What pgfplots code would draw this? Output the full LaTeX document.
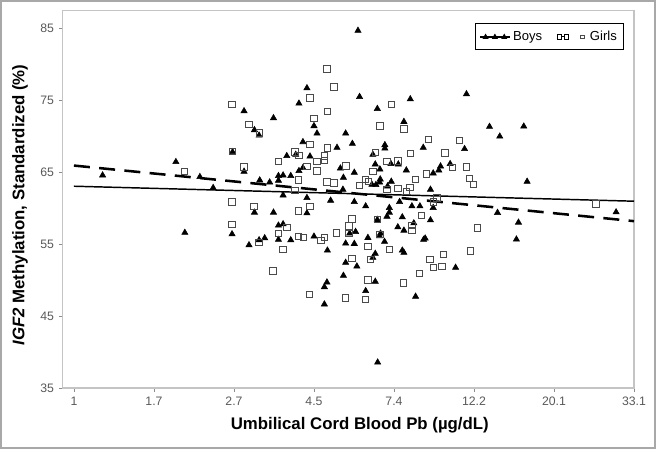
\documentclass[border=0pt]{standalone}
\usepackage{pgfplots}
\pgfplotsset{compat=1.18}
\usepackage{pgfplotstable}
\usepackage{fontspec}
\setmainfont{Liberation Sans}
\definecolor{framegray}{HTML}{C4C4C4}
\definecolor{tickgray}{HTML}{8C8C8C}
\definecolor{labgray}{HTML}{595959}
\definecolor{sqgray}{HTML}{4A4A4A}
\definecolor{bordergray}{HTML}{A8A8A8}

\pgfplotstableread{
x y
0.179 64.54
0.637 66.40
0.787 64.32
0.870 62.80
0.693 56.57
1.063 73.46
0.991 67.78
1.063 65.06
1.128 70.83
1.157 70.08
1.247 72.49
1.406 74.52
1.456 76.65
1.500 71.39
1.519 70.36
1.698 70.36
1.740 68.93
1.431 69.17
1.644 68.38
1.330 67.23
1.386 67.41
1.475 67.17
1.665 65.51
1.752 64.92
1.431 65.57
1.406 65.15
1.355 64.46
1.278 64.46
1.307 64.54
1.684 64.22
1.278 63.81
1.161 63.85
1.223 63.57
1.681 62.56
1.785 75.44
1.307 61.77
1.456 61.41
2.102 75.12
2.453 75.82
1.896 73.78
2.062 71.98
2.597 71.29
1.943 68.75
1.943 68.28
2.183 68.38
2.441 68.20
1.868 67.41
1.883 66.07
1.981 66.12
2.027 66.07
2.351 66.12
2.291 65.79
2.280 65.24
1.912 65.37
2.077 65.24
2.245 64.82
1.914 63.99
1.910 63.57
1.862 63.25
1.887 63.21
1.983 63.67
1.960 63.02
2.228 62.56
1.604 61.04
1.752 60.86
1.128 59.38
1.247 59.38
1.456 59.28
1.278 57.58
1.307 57.76
0.988 56.37
1.094 54.85
1.157 55.54
1.192 55.82
1.278 55.60
1.355 55.54
1.500 56.05
1.584 54.11
1.698 55.08
1.752 55.04
1.723 56.47
1.760 56.70
1.698 52.41
1.768 51.90
1.684 50.61
1.581 49.68
1.565 49.03
1.565 46.63
2.035 60.86
2.112 60.25
2.162 60.25
2.245 60.03
1.823 60.25
1.971 60.03
1.971 59.38
1.956 58.82
1.896 58.37
2.052 58.73
2.228 58.31
2.124 57.89
2.024 57.34
2.062 56.88
1.916 56.47
1.910 56.09
1.837 55.87
1.941 55.32
2.185 55.60
2.195 55.78
2.052 54.11
2.062 53.80
1.883 53.66
1.868 53.10
2.385 51.72
1.883 49.78
1.823 48.48
2.135 47.70
1.775 84.63
2.661 69.94
2.811 71.33
2.832 63.67
2.647 59.34
2.778 57.99
2.765 55.64
3.388 59.42
1.898 38.56
}\boys

\pgfplotstableread{
x y
0.689 65.10
1.581 79.32
1.625 76.79
0.988 74.34
1.475 75.26
1.584 73.37
1.500 72.44
1.094 71.61
1.161 70.42
1.475 68.80
1.584 68.34
0.991 67.87
1.381 67.78
1.406 67.31
1.565 67.23
1.565 66.58
1.278 66.44
1.519 66.48
1.456 65.79
1.063 65.71
1.700 65.84
1.519 65.15
1.404 63.91
1.581 63.63
1.625 63.49
1.381 62.42
1.785 63.16
1.983 74.34
1.912 71.39
2.062 70.97
2.216 69.53
2.411 69.39
1.883 67.73
2.102 67.55
2.318 67.65
1.956 66.44
2.024 66.54
2.453 65.71
2.364 65.65
1.868 65.10
2.204 64.74
2.472 64.13
2.497 63.30
2.135 63.99
1.821 63.95
1.840 63.67
2.024 62.70
2.099 62.88
2.077 62.33
1.956 62.56
2.268 61.41
0.988 60.86
1.125 60.25
1.404 59.56
1.475 60.25
0.988 57.71
1.331 57.30
1.278 56.43
1.404 56.01
1.434 55.87
1.157 55.22
1.544 55.46
1.565 55.87
1.642 56.51
1.307 54.21
1.244 51.25
1.473 47.98
1.698 47.51
1.737 58.50
1.718 57.48
1.737 53.01
1.718 56.43
2.245 60.86
2.170 58.96
1.896 58.37
2.112 57.53
2.112 56.88
2.522 57.20
1.912 56.29
1.837 54.67
1.971 54.21
1.852 52.83
2.308 53.56
2.224 52.83
2.478 54.02
2.245 51.76
2.299 51.90
2.160 50.89
1.837 50.00
2.060 49.58
1.823 47.29
3.263 60.53
}\girls

\begin{document}
\begin{tikzpicture}
\useasboundingbox (0,0) rectangle (492pt,336.75pt);
\draw[bordergray, line width=1.5pt] (0.75pt,0.75pt) rectangle (491.25pt,336pt);
\begin{axis}[
  at={(47pt,45.75pt)}, anchor=south west,
  scale only axis, width=428.5pt, height=283pt,
  xmin=-0.0705, xmax=3.5, ymin=35, ymax=87.4,
  xtick={0,0.5,1,1.5,2,2.5,3,3.5},
  xticklabels={1,1.7,2.7,4.5,7.4,12.2,20.1,33.1},
  ytick={35,45,55,65,75,85},
  tick align=outside, xtick pos=left, ytick pos=left,
  major tick length=3pt,
  axis line style={draw=framegray, line width=0.8pt},
  every tick/.style={draw=tickgray, line width=0.6pt},
  ticklabel style={font=\fontsize{9.2}{10}\selectfont, text=labgray},
  /pgf/number format/assume math mode=true,
  xlabel={Umbilical Cord Blood Pb (µg/dL)},
  ylabel={\textit{IGF2} Methylation, Standardized (\%)},
  label style={font=\fontsize{12.6}{14}\selectfont\bfseries},
  xlabel style={at={(axis description cs:0.52,-0.098)}, anchor=center},
  ylabel style={at={(axis description cs:-0.0747,0.485)}, anchor=center},
  legend columns=2,
  legend style={at={(axis description cs:0.9825,0.9666)}, anchor=north east,
    draw=black, line width=0.8pt, inner xsep=3pt, inner ysep=3.5pt,
    font=\fontsize{9.8}{11}\selectfont,
    /tikz/every even column/.append style={column sep=9pt}},
]
\addplot[only marks, mark=triangle*, mark size=2.7pt, mark options={fill=black, draw=black}, forget plot] table[x=x,y=y]{\boys};
\addplot[only marks, mark=square, mark size=2.4pt, mark options={draw=sqgray, line width=0.7pt}, forget plot] table[x=x,y=y]{\girls};
\addplot[black, line width=1.1pt, forget plot] coordinates {(0,63.02) (3.5,60.94)};
\addplot[black, line width=1.9pt, dash pattern=on 12pt off 7pt, forget plot] coordinates {(0,65.89) (3.5,58.17)};
\addlegendimage{legend image code/.code={
  \draw[line width=1.3pt] (0pt,0pt) -- (22pt,0pt);
  \foreach \p in {4,11,18}{\fill (\p pt,1.7pt) -- (\p pt-1.6pt,-1.1pt) -- (\p pt+1.6pt,-1.1pt) -- cycle;}
}}
\addlegendentry{Boys}
\addlegendimage{legend image code/.code={
  \draw[line width=0.9pt] (0pt,0pt) -- (9pt,0pt);
  \foreach \p in {1.5,6.5}{\draw[line width=0.6pt, fill=white] (\p pt-1.6pt,-1.6pt) rectangle (\p pt+1.6pt,1.6pt);}
  \draw[line width=0.5pt, draw=sqgray] (17.5pt,-1.3pt) rectangle (20pt,1.3pt);
  \path (22pt,0pt);
}}
\addlegendentry{Girls}
\end{axis}
\end{tikzpicture}
\end{document}
